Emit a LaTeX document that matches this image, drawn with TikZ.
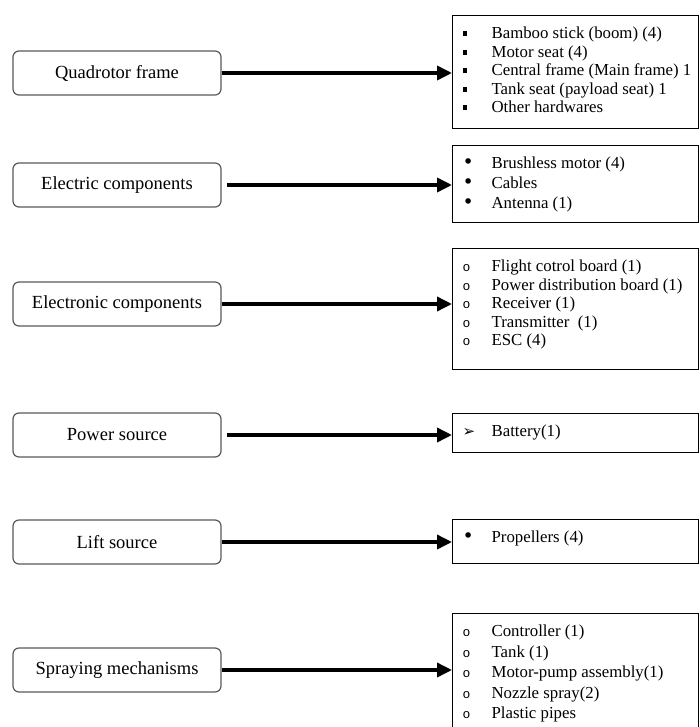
\documentclass[tikz,border=0pt]{standalone}
\usepackage{fontspec}
\setmainfont{Liberation Serif}
\newfontfamily\symfont{DejaVu Sans}
\newfontfamily\monofont{Liberation Mono}
\usetikzlibrary{arrows.meta}

% listas de piezas
\newcommand{\itm}[2]{\hspace*{10pt}\makebox[29pt][l]{#1}#2\par}
\newcommand{\partlist}[3]{\parbox[t][#1][t]{246pt}{\fontsize{16.8}{#2}\selectfont
  \vspace*{\dimexpr23pt-#2\relax}\hbox{}#3}}
\newcommand{\sqb}{\raisebox{2.5pt}{\rule{4.8pt}{5pt}}}
\newcommand{\dotb}{{\symfont\fontsize{19}{13}\selectfont •}}
\newcommand{\circb}{{\monofont\fontsize{13}{13}\selectfont o}}
\newcommand{\arrb}{{\symfont\fontsize{15}{14}\selectfont ➢}}

\tikzset{
  stage/.style={draw=black!65, line width=1.2pt, rounded corners=6pt,
    minimum width=208pt, minimum height=44pt, inner sep=0pt,
    font=\fontsize{18.5}{20}\selectfont},
  partbox/.style={draw, line width=1.2pt, inner sep=0pt, anchor=north west},
  feed/.style={line width=3.5pt, -{Triangle[length=15pt,width=14pt]}}
}

\begin{document}
\begin{tikzpicture}[x=1pt, y=-1pt]
 \useasboundingbox (0,0) rectangle (699,727);

 % Bloques
 \node[stage] (frame)      at (117,73)  {Quadrotor frame};
 \node[stage] (electric)   at (117,185) {Electric components};
 \node[stage] (electronic) at (117,304) {Electronic components};
 \node[stage] (power)      at (117,435) {Power source};
 \node[stage] (lift)       at (117,542) {Lift source};
 \node[stage] (spray)      at (117,670) {Spraying mechanisms};

 % Piezas
 \node[partbox] (frameparts) at (452,15) {\partlist{113pt}{18.5pt}{%
   \itm{\sqb}{Bamboo stick (boom) (4)}
   \itm{\sqb}{Motor seat (4)}
   \itm{\sqb}{Central frame (Main frame) 1}
   \itm{\sqb}{Tank seat (payload seat) 1}
   \itm{\sqb}{Other hardwares}}};
 \node[partbox] (electricparts) at (452,145) {\partlist{77pt}{20pt}{%
   \itm{\dotb}{Brushless motor (4)}
   \itm{\dotb}{Cables}
   \itm{\dotb}{Antenna (1)}}};
 \node[partbox] (electronicparts) at (452,248) {\partlist{121pt}{18.5pt}{%
   \itm{\circb}{Flight cotrol board (1)}
   \itm{\circb}{Power distribution board (1)}
   \itm{\circb}{Receiver (1)}
   \itm{\circb}{Transmitter\ \ (1)}
   \itm{\circb}{ESC (4)}}};
 \node[partbox] (powerparts) at (452,413) {\partlist{39pt}{18.5pt}{%
   \itm{\arrb}{Battery(1)}}};
 \node[partbox] (liftparts) at (452,519) {\partlist{44pt}{18.5pt}{%
   \itm{\dotb}{Propellers (4)}}};
 \node[partbox] (sprayparts) at (452,613) {\partlist{130pt}{20.5pt}{%
   \itm{\circb}{Controller (1)}
   \itm{\circb}{Tank (1)}
   \itm{\circb}{Motor-pump assembly(1)}
   \itm{\circb}{Nozzle spray(2)}
   \itm{\circb}{Plastic pipes}}};

 % Flechas
 \draw[feed] (frame.east) -- (frame.east -| frameparts.west);
 \draw[feed, shorten <=5pt] (electric.east) -- (electric.east -| electricparts.west);
 \draw[feed] (electronic.east) -- (electronic.east -| electronicparts.west);
 \draw[feed, shorten <=5pt] (power.east) -- (power.east -| powerparts.west);
 \draw[feed] (lift.east) -- (lift.east -| liftparts.west);
 \draw[feed] (spray.east) -- (spray.east -| sprayparts.west);
\end{tikzpicture}
\end{document}
